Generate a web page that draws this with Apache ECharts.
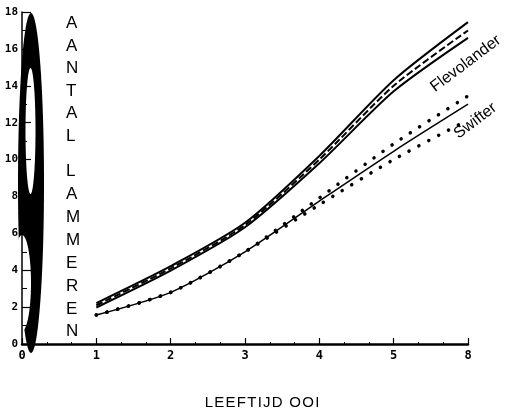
<!DOCTYPE html>
<html>
<head>
<meta charset="utf-8">
<script src="https://cdn.jsdelivr.net/npm/echarts@6/dist/echarts.min.js"></script>
<style>
  html, body { margin: 0; padding: 0; background: #fff; }
  #chart { width: 508px; height: 413px; }
</style>
</head>
<body>
<div id="chart"></div>
<script>
// Ewe age (years) and mean number of lambs, with band lines per breed
const ages = [1, 2, 3, 4, 5, 6];
const flevoMean  = [2.1, 4.1, 6.45, 10.0, 14.0, 17.0];
const flevoUpper = [2.22, 4.22, 6.57, 10.2, 14.3, 17.45];
const flevoLower = [1.98, 3.98, 6.33, 9.8, 13.7, 16.6];
const swifterMean  = [1.57, 2.8, 5.0, 7.75, 10.45, 13.0];
const swifterUpper = [1.57, 2.8, 5.0, 7.92, 10.85, 13.45];
const swifterLower = [1.57, 2.8, 5.0, 7.55, 10.0, 12.15];
const xTickLabels = ['0', '1', '2', '3', '4', '5', '8'];
const yTickLabels = ['0', '2', '4', '6', '8', '10', '12', '14', '16', '18'];

const pairs = (ys) => ys.map((y, i) => [ages[i], y]);
const spaced = (s) => s.split('').join('\u200A');

const chart = echarts.init(document.getElementById('chart'));

function line(name, ys, width, type, cap) {
  return {
    name, type: 'line', data: pairs(ys), smooth: 0.25, symbol: 'none',
    lineStyle: { color: '#000', width, type, cap: cap || 'butt' },
    z: 3
  };
}

const option = {
  animation: false,
  backgroundColor: '#fff',
  title: [
    {
      text: 'A\nA\nN\nT\nA\nL', left: 61, top: 7,
      textStyle: { fontFamily: 'Liberation Sans', fontSize: 17, fontWeight: 'normal', color: '#000', lineHeight: 22.6 }
    },
    {
      text: 'L\nA\nM\nM\nE\nR\nE\nN', left: 61, top: 155,
      textStyle: { fontFamily: 'Liberation Sans', fontSize: 17, fontWeight: 'normal', color: '#000', lineHeight: 22.9 }
    },
    {
      text: spaced('LEEFTIJD OOI'), left: 257, top: 390, textAlign: 'center',
      textStyle: { fontFamily: 'Liberation Sans', fontSize: 15, fontWeight: 'normal', color: '#000' }
    }
  ],
  grid: { left: 22, right: 40, top: 12, bottom: 69, containLabel: false },
  xAxis: {
    type: 'value', min: 0, max: 6, interval: 1,
    axisLine: { show: true, lineStyle: { color: '#000', width: 2.5 } },
    axisTick: { show: true, inside: true, length: 6, lineStyle: { color: '#000', width: 1.2 } },
    minorTick: { show: true, splitNumber: 3, length: 2, lineStyle: { color: '#000', width: 1 } },
    splitLine: { show: false },
    axisLabel: {
      color: '#000', fontFamily: 'DejaVu Sans Mono', fontWeight: 'bold', fontSize: 12, margin: 6,
      formatter: (v) => xTickLabels[Math.round(v)]
    }
  },
  yAxis: {
    type: 'value', min: 0, max: 18, interval: 2,
    axisLine: { show: true, lineStyle: { color: '#000', width: 1.5 } },
    axisTick: { show: true, inside: true, length: 9, lineStyle: { color: '#000', width: 1.2 } },
    minorTick: { show: true, splitNumber: 2, length: 5, lineStyle: { color: '#000', width: 1 } },
    splitLine: { show: false },
    axisLabel: {
      color: '#000', fontFamily: 'DejaVu Sans Mono', fontWeight: 'bold', fontSize: 11, margin: 4,
      formatter: (v) => yTickLabels[Math.round(v / 2)]
    }
  },
  series: [
    line('Flevolander boven', flevoUpper, 2, 'solid'),
    line('Flevolander', flevoMean, 2, [7, 3]),
    line('Flevolander onder', flevoLower, 2, 'solid'),
    line('Swifter', swifterMean, 1.5, 'solid'),
    line('Swifter boven', swifterUpper, 3.5, [0.1, 11], 'round'),
    line('Swifter onder', swifterLower, 3.5, [0.1, 11], 'round')
  ]
};

chart.setOption(option);

// Large black loop behind the vertical axis, plus rotated breed names
const flevoPos = chart.convertToPixel({ gridIndex: 0 }, [5.97, 15.2]);
const swifPos = chart.convertToPixel({ gridIndex: 0 }, [6.1, 12.1]);
const rot = 37 * Math.PI / 180;

chart.setOption({
  graphic: [
    { type: 'ellipse', shape: { cx: 31, cy: 183, rx: 13, ry: 170 }, style: { fill: '#000' }, z: -10 },
    { type: 'ellipse', shape: { cx: 30.5, cy: 131, rx: 5, ry: 63 }, style: { fill: '#fff' }, z: -9 },
    { type: 'ellipse', shape: { cx: 22, cy: 283, rx: 9, ry: 48 }, style: { fill: '#fff' }, z: -9 },
    {
      type: 'text', x: flevoPos[0], y: flevoPos[1], rotation: rot, z: 5,
      style: { text: 'Flevolander', fill: '#000', font: '16px "Liberation Sans"', textAlign: 'center', textVerticalAlign: 'middle' }
    },
    {
      type: 'text', x: swifPos[0], y: swifPos[1], rotation: rot, z: 5,
      style: { text: 'Swifter', fill: '#000', font: '16px "Liberation Sans"', textAlign: 'center', textVerticalAlign: 'middle' }
    }
  ]
});
</script>
</body>
</html>
